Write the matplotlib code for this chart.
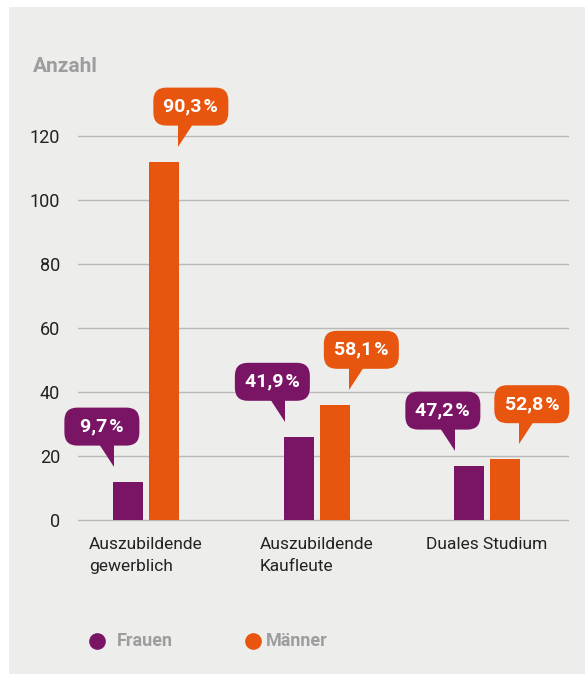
import matplotlib
matplotlib.use('Agg')
from matplotlib import pyplot as plt
from matplotlib.patches import FancyBboxPatch, Polygon, Rectangle
from matplotlib.lines import Line2D
from matplotlib.transforms import Affine2D, ScaledTranslation
import numpy as np

categories = ['Auszubildende\ngewerblich', 'Auszubildende\nKaufleute', 'Duales Studium']
frauen = [12, 26, 17]
maenner = [112, 36, 19]
frauen_pct = ['9,7', '41,9', '47,2']
maenner_pct = ['90,3', '58,1', '52,8']
series_names = ['Frauen', 'Männer']
y_ticks = [0, 20, 40, 60, 80, 100, 120]

purple = '#7a1565'
orange = '#e8550e'
panel = '#ededeb'
grey_text = '#9d9d9d'
dark_text = '#222222'

plt.rcParams['font.family'] = ['Roboto', 'DejaVu Sans']

W, H = 585, 674


def fx(px):
    return px / W


def fy(py):
    return 1 - py / H


fig = plt.figure(figsize=(W / 100, H / 100), dpi=100)
fig.patch.set_facecolor('white')
fig.add_artist(Rectangle((fx(9), 0), 1, fy(7), transform=fig.transFigure,
                         facecolor=panel, edgecolor='none', zorder=0))

# y = 0 sits at 520px, 3.2px per unit
y_lo, y_hi = -1, 130
ax = fig.add_axes([fx(78), fy(520 + 3.2 * -y_lo), fx(491), (y_hi - y_lo) * 3.2 / H])
ax.set_facecolor('none')
for s in ax.spines.values():
    s.set_visible(False)

x = np.arange(len(categories))
width = 0.176
off = 0.1056

ax.bar(x - off, frauen, width=width, color=purple, zorder=2)
ax.bar(x + off, maenner, width=width, color=orange, zorder=2)

ax.set_ylim(y_lo, y_hi)
ax.set_xlim(-0.399, 2.481)
ax.set_yticks(y_ticks)
ax.yaxis.grid(True, color='#b8b8b8', linewidth=1.0)
ax.set_axisbelow(True)
ax.tick_params(axis='y', length=0, pad=13, labelsize=13, labelcolor=dark_text)
ax.set_xticks(x)
ax.set_xticklabels(categories, multialignment='left', linespacing=1.55)
ax.tick_params(axis='x', length=0, pad=10, labelsize=12.5, labelcolor=dark_text)


def bubble(xd, yd, text, color, side):
    # speech bubble whose tail tip sits 15px above the point (xd, yd)
    base = ScaledTranslation(xd, yd, ax.transData)
    tr = Affine2D().translate(0, 15) + base
    if side < 0:
        bx0 = -50
        tail = [(0, 0), (0, 23), (-15, 23)]
    else:
        bx0 = -25
        tail = [(0, 0), (0, 23), (15, 23)]
    box = FancyBboxPatch((bx0, 21), 75, 38, boxstyle='round,pad=0,rounding_size=13',
                         facecolor=color, edgecolor='none', transform=tr, clip_on=False, zorder=3)
    tri = Polygon(tail, closed=True, facecolor=color, edgecolor='none',
                  transform=tr, clip_on=False, zorder=3)
    ax.add_artist(box)
    ax.add_artist(tri)
    ax.text(bx0 + 37.5, 40, text, transform=tr, ha='center', va='center',
            color='white', fontsize=14, fontweight='bold', zorder=4)


for i in range(len(categories)):
    bubble(x[i] - off - width / 2 + 0.008, frauen[i], frauen_pct[i] + '\u200a%', purple, -1)
    bubble(x[i] + off + width / 2 - 0.004, maenner[i], maenner_pct[i] + '\u200a%', orange, 1)

fig.text(fx(33), fy(66), 'Anzahl', color=grey_text, fontsize=15, fontweight='bold',
         ha='left', va='center')

# legend
legend_items = [(97, 117, purple), (253, 266, orange)]
for (cx, tx, col), name in zip(legend_items, series_names):
    fig.add_artist(Line2D([fx(cx)], [fy(641)], marker='o', markersize=11, color=col,
                          linestyle='none', transform=fig.transFigure))
    fig.text(fx(tx), fy(641), name, color=grey_text, fontsize=13, fontweight='bold',
             ha='left', va='center')

fig.savefig('out.png', dpi=100, facecolor=fig.get_facecolor())
